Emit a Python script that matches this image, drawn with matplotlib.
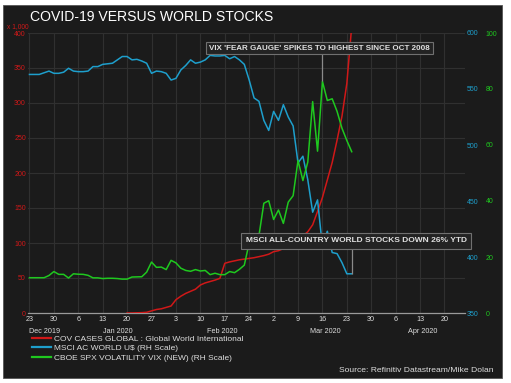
import numpy as np
import pandas as pd
import matplotlib
matplotlib.use("Agg")
import matplotlib.pyplot as plt
from matplotlib.patches import Rectangle

plt.rcParams['font.family'] = ['Liberation Sans', 'DejaVu Sans']

# ---------------- data ----------------
start_date = "2019-12-23"
msci = [563, 563, 563, 564.5, 566, 564, 564, 565, 568.5, 566,
        565.5, 565.5, 566, 570, 570, 572, 572.5, 573, 576, 579,
        579, 576, 576.5, 575, 573, 564, 566, 565.5, 564, 558,
        559.5, 567, 571, 576, 573, 574, 576, 580, 579.5, 579.5,
        580, 577, 579, 576, 572, 558, 542, 539, 522, 513,
        530, 522, 536, 525, 517, 484, 490, 469, 440, 451,
        409, 423, 404, 403, 395, 385, 385]
vix = [12.6, 12.6, 12.6, 12.6, 13.4, 14.8, 13.8, 13.8, 12.5, 14.0,
       13.85, 13.8, 13.45, 12.55, 12.55, 12.3, 12.4, 12.4, 12.3, 12.1,
       12.1, 12.85, 12.9, 12.95, 14.6, 18.2, 16.3, 16.4, 15.5, 18.8,
       17.9, 16.0, 15.2, 14.9, 15.5, 15.0, 15.2, 13.7, 14.2, 13.7,
       13.7, 14.8, 14.4, 15.6, 17.1, 25.0, 27.8, 27.6, 39.2, 40.1,
       33.4, 36.8, 32.0, 39.6, 41.9, 54.5, 47.3, 53.9, 75.5, 57.8,
       82.7, 75.9, 76.5, 72.0, 66.0, 61.6, 57.6]
covid_start = "2020-01-20"
covid = [0, 0, 0.3, 0.5, 1, 3, 5, 6, 8, 10,
         19, 24, 28, 31, 34, 40, 43, 45, 47, 49.5,
         71, 73, 74.5, 76, 77, 78, 79, 80.5, 82, 84,
         87.6, 89, 92, 95, 97, 104, 110, 116, 126, 145,
         165, 190, 215, 247, 281, 328, 410]
axis_end = "2020-04-24"
month_labels = ["Dec 2019", "Jan 2020", "Feb 2020", "Mar 2020", "Apr 2020"]
legend_labels = ["COV CASES GLOBAL : Global World International",
                 "MSCI AC WORLD U$ (RH Scale)",
                 "CBOE SPX VOLATILITY VIX (NEW) (RH Scale)"]
title = "COVID-19 VERSUS WORLD STOCKS"
note_vix = "VIX 'FEAR GAUGE' SPIKES TO HIGHEST SINCE OCT 2008"
note_msci = "MSCI ALL-COUNTRY WORLD STOCKS DOWN 26% YTD"
source = "Source: Refinitiv Datastream/Mike Dolan"

# ---------------- positions (business-day index) ----------------
all_days = pd.bdate_range(start_date, axis_end)
pos = {d: i for i, d in enumerate(all_days)}
x_main = np.arange(len(msci))
c0 = pos[pd.Timestamp(covid_start)]
x_cov = np.arange(c0, c0 + len(covid))
mondays = [d for d in all_days if d.weekday() == 0]
tick_pos = [pos[d] for d in mondays]
tick_lab = [str(d.day) for d in mondays]

W, H = 511, 383
BG = "#1b1b1b"
RED = "#d01818"
BLUE = "#1e9fcc"
GREEN = "#1fc81f"
GRID = "#303030"

fig = plt.figure(figsize=(W / 100, H / 100), dpi=100, facecolor="white")
fig.patches.append(Rectangle((3 / W, 1 - 378 / H), (502 - 3) / W, (378 - 5) / H,
                             transform=fig.transFigure, facecolor=BG,
                             edgecolor="#555555", lw=0.6, zorder=-10))

L, R, T, B = 28, 465, 33, 313
ax = fig.add_axes([L / W, 1 - B / H, (R - L) / W, (B - T) / H])
ax.set_facecolor(BG)
ax2 = ax.twinx()
ax3 = ax.twinx()

ax.set_xlim(-0.3, len(all_days) - 1 + 0.2)
ax.set_ylim(0, 400)
ax2.set_ylim(350, 600)
ax3.set_ylim(0, 100)

l_red, = ax.plot(x_cov, covid, color=RED, lw=1.1, clip_on=True, zorder=5)
l_blue, = ax2.plot(x_main, msci, color=BLUE, lw=1.1)
l_green, = ax3.plot(x_main, vix, color=GREEN, lw=1.1)

for a in (ax, ax2, ax3):
    for s in a.spines.values():
        s.set_visible(False)
ax.spines['bottom'].set_visible(True)
ax.spines['bottom'].set_color("#9a9a9a")
ax.spines['bottom'].set_linewidth(0.9)

ax.set_yticks(np.arange(0, 401, 50))
ax.tick_params(axis='y', colors=RED, labelsize=5, length=0, pad=1.5)
ax.set_xticks(tick_pos)
ax.set_xticklabels(tick_lab)
ax.tick_params(axis='x', colors="#dddddd", labelsize=5.2, length=0, pad=2)
ax.grid(True, color=GRID, lw=0.8)
ax.set_axisbelow(True)

ax2.set_yticks(np.arange(350, 601, 50))
ax2.tick_params(axis='y', colors=BLUE, labelsize=5, length=0, pad=1.5)
ax3.set_yticks(np.arange(0, 101, 20))
ax3.tick_params(axis='y', colors=GREEN, labelsize=5, length=0, pad=15)
ax3.xaxis.set_visible(False)

# month labels centred over visible month spans
months = pd.Series(range(len(all_days)), index=all_days).groupby(all_days.to_period('M'))
for (per, idx), lab in zip(months, month_labels):
    mid = (idx.iloc[0] + idx.iloc[-1]) / 2
    ax.text(mid, -0.065, lab, transform=ax.get_xaxis_transform(), ha='center', va='center',
            fontsize=5.2, color="#dddddd")

fig.text(29 / W, 1 - 27 / H, "x 1,000", color=RED, fontsize=4.8, ha='right', va='center')
fig.text(30 / W, 1 - 17 / H, title, color="white", fontsize=10.1, ha='left', va='center')

# annotations
peak_i = int(np.argmax(vix))
ax3.vlines(peak_i, vix[peak_i], 92.5, color="#8a8a8a", lw=0.9, zorder=6)
fig.text(319.5 / W, 1 - 48 / H, note_vix, color="#e0e0e0", fontsize=5.75, ha='center', va='center',
         fontweight='bold',
         bbox=dict(boxstyle='square,pad=0.35', facecolor="#232323", edgecolor="#707070", lw=0.8))
low_i = len(msci) - 1
ax2.vlines(low_i, msci[low_i], 407, color="#8a8a8a", lw=0.9, zorder=6)
fig.text(356 / W, 1 - 241 / H, note_msci, color="#e0e0e0", fontsize=6.0, ha='center', va='center',
         fontweight='bold',
         bbox=dict(boxstyle='square,pad=0.5', facecolor="#232323", edgecolor="#707070", lw=0.8))

leg = fig.legend([l_red, l_blue, l_green], legend_labels, loc='upper left',
                 bbox_to_anchor=(32 / W, 1 - 335 / H), frameon=False, fontsize=6.0,
                 handlelength=2.3, handletextpad=0.4, labelspacing=0.18,
                 borderpad=0, borderaxespad=0)
for t in leg.get_texts():
    t.set_color("#dddddd")
for h in leg.get_lines():
    h.set_linewidth(1.6)

fig.text(493 / W, 1 - 371 / H, source, color="#dddddd", fontsize=6.1, ha='right', va='center')

fig.savefig("out.png", dpi=100, facecolor="white")
